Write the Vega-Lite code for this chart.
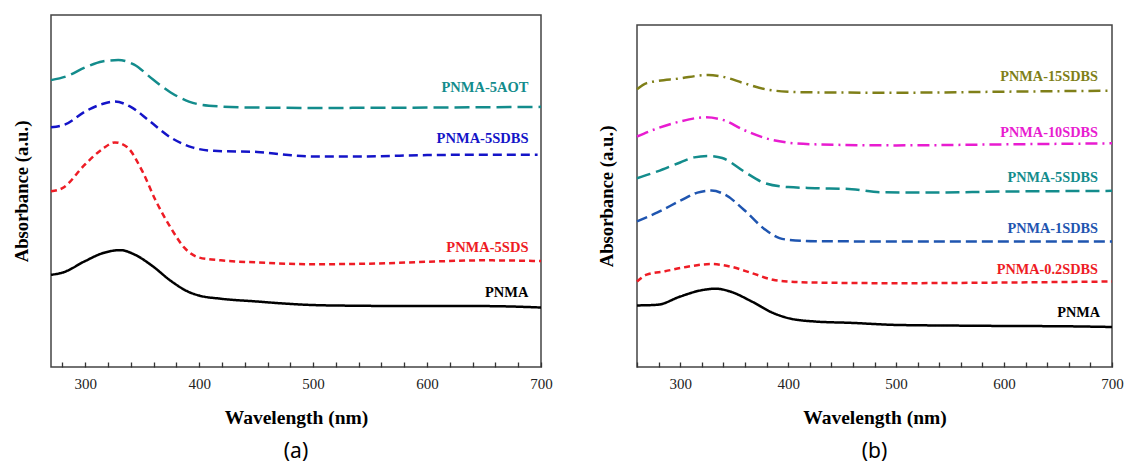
{
  "$schema": "https://vega.github.io/schema/vega-lite/v6.json",
  "background": "white",
  "padding": {"left": 11, "top": 14, "right": 4, "bottom": 0},
  "spacing": 43,
  "resolve": {"scale": {"color": "independent", "strokeDash": "independent", "x": "independent", "y": "independent"}},
  "config": {
    "view": {"stroke": "#444444", "strokeWidth": 1.5},
    "font": "Liberation Serif",
    "axis": {"labelFont": "Liberation Serif", "titleFont": "Liberation Serif", "grid": false},
    "title": {"font": "Noto Sans", "fontSize": 21, "fontWeight": "normal", "color": "#000000"}
  },
  "datasets": {
    "a": [
      {"s": "PNMA", "wl": 270, "v": 26.2}, {"s": "PNMA", "wl": 280, "v": 26.8}, {"s": "PNMA", "wl": 300, "v": 30.1}, {"s": "PNMA", "wl": 315, "v": 32.3}, {"s": "PNMA", "wl": 331, "v": 33.2}, {"s": "PNMA", "wl": 343, "v": 32.0}, {"s": "PNMA", "wl": 359, "v": 28.7}, {"s": "PNMA", "wl": 375, "v": 24.5}, {"s": "PNMA", "wl": 391, "v": 21.3}, {"s": "PNMA", "wl": 400, "v": 20.3}, {"s": "PNMA", "wl": 419, "v": 19.4}, {"s": "PNMA", "wl": 451, "v": 18.6}, {"s": "PNMA", "wl": 476, "v": 18.0}, {"s": "PNMA", "wl": 500, "v": 17.6}, {"s": "PNMA", "wl": 539, "v": 17.4}, {"s": "PNMA", "wl": 600, "v": 17.3}, {"s": "PNMA", "wl": 650, "v": 17.3}, {"s": "PNMA", "wl": 700, "v": 16.9},
      {"s": "PNMA-5SDS", "wl": 270, "v": 49.9}, {"s": "PNMA-5SDS", "wl": 280, "v": 50.8}, {"s": "PNMA-5SDS", "wl": 300, "v": 57.6}, {"s": "PNMA-5SDS", "wl": 315, "v": 61.9}, {"s": "PNMA-5SDS", "wl": 326, "v": 63.8}, {"s": "PNMA-5SDS", "wl": 337, "v": 62.4}, {"s": "PNMA-5SDS", "wl": 350, "v": 55.7}, {"s": "PNMA-5SDS", "wl": 362, "v": 47.2}, {"s": "PNMA-5SDS", "wl": 375, "v": 39.6}, {"s": "PNMA-5SDS", "wl": 387, "v": 33.9}, {"s": "PNMA-5SDS", "wl": 400, "v": 31.1}, {"s": "PNMA-5SDS", "wl": 419, "v": 30.3}, {"s": "PNMA-5SDS", "wl": 451, "v": 29.7}, {"s": "PNMA-5SDS", "wl": 500, "v": 29.2}, {"s": "PNMA-5SDS", "wl": 555, "v": 29.4}, {"s": "PNMA-5SDS", "wl": 600, "v": 29.9}, {"s": "PNMA-5SDS", "wl": 650, "v": 30.3}, {"s": "PNMA-5SDS", "wl": 700, "v": 30.1},
      {"s": "PNMA-5SDBS", "wl": 270, "v": 68.1}, {"s": "PNMA-5SDBS", "wl": 283, "v": 69.0}, {"s": "PNMA-5SDBS", "wl": 300, "v": 72.6}, {"s": "PNMA-5SDBS", "wl": 315, "v": 74.7}, {"s": "PNMA-5SDBS", "wl": 326, "v": 75.4}, {"s": "PNMA-5SDBS", "wl": 340, "v": 73.9}, {"s": "PNMA-5SDBS", "wl": 356, "v": 70.0}, {"s": "PNMA-5SDBS", "wl": 375, "v": 65.2}, {"s": "PNMA-5SDBS", "wl": 394, "v": 62.4}, {"s": "PNMA-5SDBS", "wl": 413, "v": 61.4}, {"s": "PNMA-5SDBS", "wl": 451, "v": 61.1}, {"s": "PNMA-5SDBS", "wl": 476, "v": 60.3}, {"s": "PNMA-5SDBS", "wl": 500, "v": 59.8}, {"s": "PNMA-5SDBS", "wl": 539, "v": 59.8}, {"s": "PNMA-5SDBS", "wl": 600, "v": 60.2}, {"s": "PNMA-5SDBS", "wl": 650, "v": 60.3}, {"s": "PNMA-5SDBS", "wl": 697, "v": 60.3},
      {"s": "PNMA-5AOT", "wl": 270, "v": 81.5}, {"s": "PNMA-5AOT", "wl": 283, "v": 82.5}, {"s": "PNMA-5AOT", "wl": 300, "v": 85.1}, {"s": "PNMA-5AOT", "wl": 315, "v": 86.8}, {"s": "PNMA-5AOT", "wl": 329, "v": 87.2}, {"s": "PNMA-5AOT", "wl": 343, "v": 85.9}, {"s": "PNMA-5AOT", "wl": 359, "v": 81.8}, {"s": "PNMA-5AOT", "wl": 375, "v": 78.0}, {"s": "PNMA-5AOT", "wl": 391, "v": 75.4}, {"s": "PNMA-5AOT", "wl": 400, "v": 74.6}, {"s": "PNMA-5AOT", "wl": 419, "v": 74.0}, {"s": "PNMA-5AOT", "wl": 451, "v": 73.7}, {"s": "PNMA-5AOT", "wl": 500, "v": 73.6}, {"s": "PNMA-5AOT", "wl": 600, "v": 73.7}, {"s": "PNMA-5AOT", "wl": 700, "v": 73.9}
    ],
    "la": [
      {"s": "PNMA-5AOT", "wl": 689, "v": 79.2},
      {"s": "PNMA-5SDBS", "wl": 689, "v": 64.7},
      {"s": "PNMA-5SDS", "wl": 689, "v": 33.7},
      {"s": "PNMA", "wl": 689, "v": 20.9}
    ],
    "b": [
      {"s": "PNMA", "wl": 260, "v": 18.0}, {"s": "PNMA", "wl": 279, "v": 18.2}, {"s": "PNMA", "wl": 300, "v": 20.6}, {"s": "PNMA", "wl": 319, "v": 22.4}, {"s": "PNMA", "wl": 333, "v": 22.9}, {"s": "PNMA", "wl": 346, "v": 22.1}, {"s": "PNMA", "wl": 366, "v": 19.2}, {"s": "PNMA", "wl": 386, "v": 15.8}, {"s": "PNMA", "wl": 400, "v": 14.3}, {"s": "PNMA", "wl": 425, "v": 13.3}, {"s": "PNMA", "wl": 459, "v": 12.9}, {"s": "PNMA", "wl": 500, "v": 12.3}, {"s": "PNMA", "wl": 558, "v": 12.1}, {"s": "PNMA", "wl": 600, "v": 12.0}, {"s": "PNMA", "wl": 658, "v": 11.9}, {"s": "PNMA", "wl": 700, "v": 11.7},
      {"s": "PNMA-0.2SDBS", "wl": 260, "v": 25.0}, {"s": "PNMA-0.2SDBS", "wl": 269, "v": 27.0}, {"s": "PNMA-0.2SDBS", "wl": 286, "v": 28.0}, {"s": "PNMA-0.2SDBS", "wl": 303, "v": 29.1}, {"s": "PNMA-0.2SDBS", "wl": 329, "v": 30.1}, {"s": "PNMA-0.2SDBS", "wl": 346, "v": 29.4}, {"s": "PNMA-0.2SDBS", "wl": 366, "v": 27.5}, {"s": "PNMA-0.2SDBS", "wl": 386, "v": 25.5}, {"s": "PNMA-0.2SDBS", "wl": 400, "v": 25.0}, {"s": "PNMA-0.2SDBS", "wl": 425, "v": 24.7}, {"s": "PNMA-0.2SDBS", "wl": 500, "v": 24.5}, {"s": "PNMA-0.2SDBS", "wl": 600, "v": 24.7}, {"s": "PNMA-0.2SDBS", "wl": 700, "v": 25.0},
      {"s": "PNMA-1SDBS", "wl": 260, "v": 42.6}, {"s": "PNMA-1SDBS", "wl": 279, "v": 45.2}, {"s": "PNMA-1SDBS", "wl": 300, "v": 48.6}, {"s": "PNMA-1SDBS", "wl": 316, "v": 51.0}, {"s": "PNMA-1SDBS", "wl": 329, "v": 51.6}, {"s": "PNMA-1SDBS", "wl": 342, "v": 50.3}, {"s": "PNMA-1SDBS", "wl": 359, "v": 46.0}, {"s": "PNMA-1SDBS", "wl": 379, "v": 40.1}, {"s": "PNMA-1SDBS", "wl": 392, "v": 37.7}, {"s": "PNMA-1SDBS", "wl": 400, "v": 37.2}, {"s": "PNMA-1SDBS", "wl": 425, "v": 36.8}, {"s": "PNMA-1SDBS", "wl": 500, "v": 36.7}, {"s": "PNMA-1SDBS", "wl": 600, "v": 36.7}, {"s": "PNMA-1SDBS", "wl": 700, "v": 36.7},
      {"s": "PNMA-5SDBS", "wl": 260, "v": 55.2}, {"s": "PNMA-5SDBS", "wl": 279, "v": 57.2}, {"s": "PNMA-5SDBS", "wl": 300, "v": 59.8}, {"s": "PNMA-5SDBS", "wl": 313, "v": 61.3}, {"s": "PNMA-5SDBS", "wl": 326, "v": 61.7}, {"s": "PNMA-5SDBS", "wl": 339, "v": 61.1}, {"s": "PNMA-5SDBS", "wl": 359, "v": 57.2}, {"s": "PNMA-5SDBS", "wl": 379, "v": 53.7}, {"s": "PNMA-5SDBS", "wl": 400, "v": 52.6}, {"s": "PNMA-5SDBS", "wl": 425, "v": 52.3}, {"s": "PNMA-5SDBS", "wl": 459, "v": 52.0}, {"s": "PNMA-5SDBS", "wl": 485, "v": 51.1}, {"s": "PNMA-5SDBS", "wl": 525, "v": 51.0}, {"s": "PNMA-5SDBS", "wl": 600, "v": 51.3}, {"s": "PNMA-5SDBS", "wl": 700, "v": 51.5},
      {"s": "PNMA-10SDBS", "wl": 260, "v": 67.4}, {"s": "PNMA-10SDBS", "wl": 279, "v": 69.8}, {"s": "PNMA-10SDBS", "wl": 300, "v": 71.8}, {"s": "PNMA-10SDBS", "wl": 323, "v": 73.0}, {"s": "PNMA-10SDBS", "wl": 339, "v": 72.3}, {"s": "PNMA-10SDBS", "wl": 359, "v": 69.3}, {"s": "PNMA-10SDBS", "wl": 379, "v": 66.9}, {"s": "PNMA-10SDBS", "wl": 400, "v": 65.6}, {"s": "PNMA-10SDBS", "wl": 425, "v": 65.1}, {"s": "PNMA-10SDBS", "wl": 500, "v": 64.8}, {"s": "PNMA-10SDBS", "wl": 600, "v": 65.1}, {"s": "PNMA-10SDBS", "wl": 700, "v": 65.4},
      {"s": "PNMA-15SDBS", "wl": 260, "v": 81.2}, {"s": "PNMA-15SDBS", "wl": 269, "v": 83.0}, {"s": "PNMA-15SDBS", "wl": 300, "v": 84.4}, {"s": "PNMA-15SDBS", "wl": 326, "v": 85.4}, {"s": "PNMA-15SDBS", "wl": 339, "v": 84.9}, {"s": "PNMA-15SDBS", "wl": 359, "v": 83.0}, {"s": "PNMA-15SDBS", "wl": 379, "v": 81.2}, {"s": "PNMA-15SDBS", "wl": 400, "v": 80.5}, {"s": "PNMA-15SDBS", "wl": 425, "v": 80.3}, {"s": "PNMA-15SDBS", "wl": 500, "v": 80.2}, {"s": "PNMA-15SDBS", "wl": 600, "v": 80.5}, {"s": "PNMA-15SDBS", "wl": 700, "v": 80.8}
    ],
    "lb": [
      {"s": "PNMA-15SDBS", "wl": 687, "v": 84.7},
      {"s": "PNMA-10SDBS", "wl": 687, "v": 68.5},
      {"s": "PNMA-5SDBS", "wl": 687, "v": 55.4},
      {"s": "PNMA-1SDBS", "wl": 687, "v": 40.4},
      {"s": "PNMA-0.2SDBS", "wl": 687, "v": 28.4},
      {"s": "PNMA", "wl": 689, "v": 15.8}
    ]
  },
  "hconcat": [
    {
      "width": 490,
      "height": 352,
      "title": {"text": "(a)", "orient": "bottom", "offset": 14},
      "resolve": {"scale": {"color": "shared"}},
      "encoding": {
        "x": {"field": "wl", "type": "quantitative", "scale": {"domain": [270, 700], "nice": false, "zero": false},
          "axis": {"title": "Wavelength (nm)", "titleFontSize": 19.5, "titleFontWeight": "bold", "titlePadding": 17, "labelFontSize": 15, "labelColor": "#222", "values": [280, 300, 320, 340, 360, 380, 400, 420, 440, 460, 480, 500, 520, 540, 560, 580, 600, 620, 640, 660, 680, 700], "labelExpr": "datum.value % 100 === 0 ? datum.label : ''", "labelOverlap": false, "labelBound": false, "offset": -5, "tickSize": 5, "tickWidth": 1.3, "tickColor": "#333333", "labelPadding": 9, "domain": false, "labelFlush": false, "zindex": 1}},
        "y": {"field": "v", "type": "quantitative", "scale": {"domain": [0, 100]},
          "axis": {"title": "Absorbance (a.u.)", "titleFontSize": 18.7, "titleFontWeight": "bold", "labels": false, "ticks": false, "domain": false, "titlePadding": 20}},
        "color": {"field": "s", "type": "nominal", "legend": null,
          "scale": {"domain": ["PNMA", "PNMA-5SDS", "PNMA-5SDBS", "PNMA-5AOT"], "range": ["#000000", "#ee1c25", "#1414c8", "#138c8c"]}}
      },
      "layer": [
        {
          "data": {"name": "a"},
          "mark": {"type": "line", "strokeWidth": 2.5, "interpolate": "monotone"},
          "encoding": {
            "strokeDash": {"field": "s", "type": "nominal", "legend": null,
              "scale": {"domain": ["PNMA", "PNMA-5SDS", "PNMA-5SDBS", "PNMA-5AOT"], "range": [[1, 0], [6, 4], [9, 5], [15, 6]]}}
          }
        },
        {
          "data": {"name": "la"},
          "mark": {"type": "text", "align": "right", "baseline": "middle", "fontWeight": "bold", "fontSize": 14.5, "font": "Liberation Serif"},
          "encoding": {
            "text": {"field": "s"}
          }
        }
      ]
    },
    {
      "spacing": 8,
      "vconcat": [
        {
          "width": 475,
          "height": 1,
          "view": {"stroke": null},
          "data": {"values": []},
          "mark": "point",
          "encoding": {}
        },
        {
          "width": 475,
          "height": 342,
          "title": {"text": "(b)", "orient": "bottom", "offset": 14},
          "resolve": {"scale": {"color": "shared"}},
          "encoding": {
            "x": {"field": "wl", "type": "quantitative", "scale": {"domain": [260, 700], "nice": false, "zero": false},
              "axis": {"title": "Wavelength (nm)", "titleFontSize": 19.5, "titleFontWeight": "bold", "titlePadding": 17, "labelFontSize": 15, "labelColor": "#222", "values": [260, 280, 300, 320, 340, 360, 380, 400, 420, 440, 460, 480, 500, 520, 540, 560, 580, 600, 620, 640, 660, 680, 700], "labelExpr": "datum.value % 100 === 0 ? datum.label : ''", "labelOverlap": false, "labelBound": false, "offset": -5, "tickSize": 5, "tickWidth": 1.3, "tickColor": "#333333", "labelPadding": 9, "domain": false, "labelFlush": false, "zindex": 1}},
            "y": {"field": "v", "type": "quantitative", "scale": {"domain": [0, 100]},
              "axis": {"title": "Absorbance (a.u.)", "titleFontSize": 18.7, "titleFontWeight": "bold", "labels": false, "ticks": false, "domain": false, "titlePadding": 21}},
            "color": {"field": "s", "type": "nominal", "legend": null,
              "scale": {"domain": ["PNMA", "PNMA-0.2SDBS", "PNMA-1SDBS", "PNMA-5SDBS", "PNMA-10SDBS", "PNMA-15SDBS"], "range": ["#000000", "#ee1c25", "#1f55b0", "#138c8c", "#e81cd0", "#7f7f18"]}}
          },
          "layer": [
            {
              "data": {"name": "b"},
              "mark": {"type": "line", "strokeWidth": 2.5, "interpolate": "monotone"},
              "encoding": {
                "strokeDash": {"field": "s", "type": "nominal", "legend": null,
                  "scale": {"domain": ["PNMA", "PNMA-0.2SDBS", "PNMA-1SDBS", "PNMA-5SDBS", "PNMA-10SDBS", "PNMA-15SDBS"], "range": [[1, 0], [6, 4], [11, 5], [14, 6], [12, 5, 2, 5], [12, 5, 2, 5]]}}
              }
            },
            {
              "data": {"name": "lb"},
              "mark": {"type": "text", "align": "right", "baseline": "middle", "fontWeight": "bold", "fontSize": 14.3, "font": "Liberation Serif"},
              "encoding": {
                "text": {"field": "s"}
              }
            }
          ]
        }
      ]
    }
  ]
}
